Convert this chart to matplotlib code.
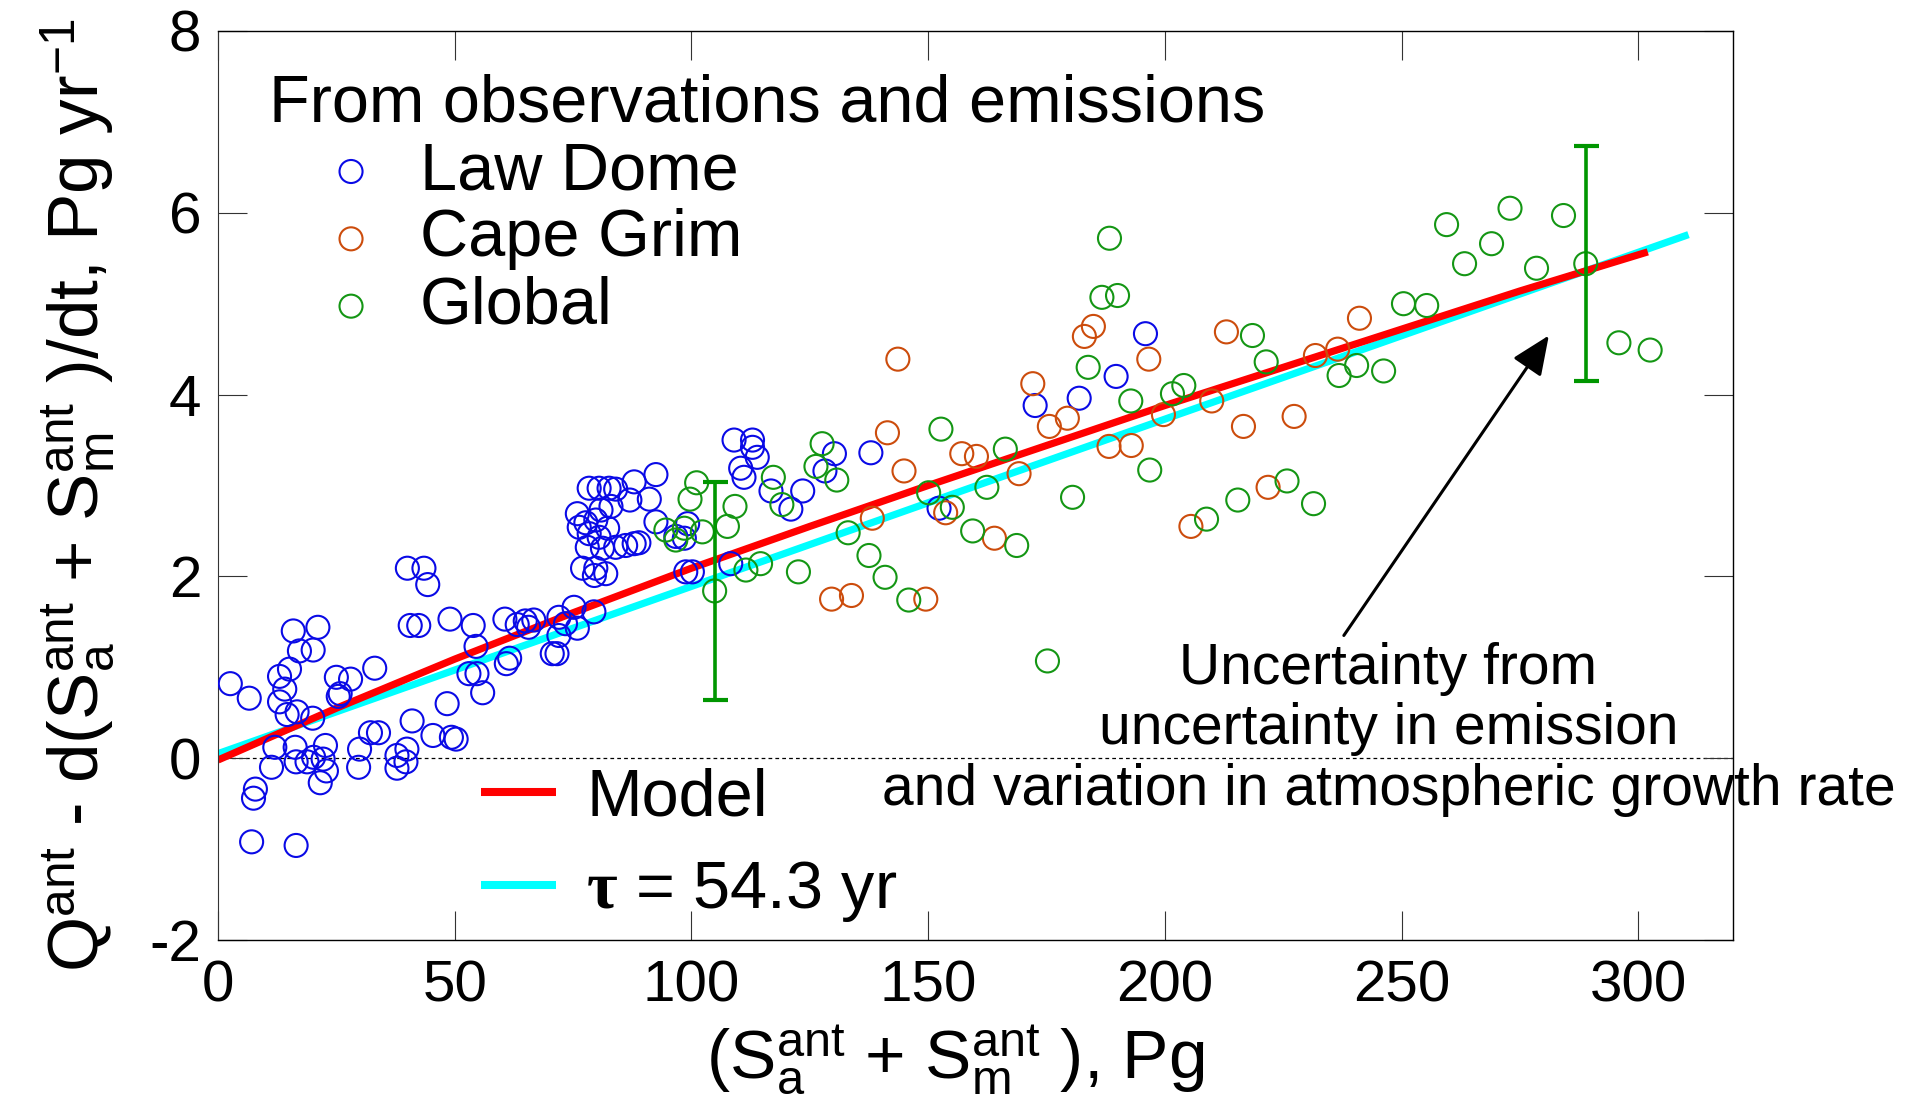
import matplotlib

matplotlib.use("Agg", force=True)
import matplotlib.pyplot as plt
import numpy as np

plt.rcParams["font.family"] = ["Liberation Sans", "DejaVu Sans"]
plt.rcParams["mathtext.fontset"] = "custom"
plt.rcParams["mathtext.rm"] = "Liberation Sans"
plt.rcParams["mathtext.it"] = "Liberation Serif:bold"
plt.rcParams["axes.unicode_minus"] = False

# Law Dome (x, y)
law_dome_x = [2.6, 6.6, 15.9, 21.1, 17.2, 20.1, 15.1, 13.0, 14.1, 13.0, 14.6, 16.7, 20.0, 25.0, 28.0,
              25.8, 25.4, 33.1, 12.0, 11.3, 16.3, 16.5, 18.8, 20.2, 22.7, 22.2, 22.9, 21.6, 7.9, 7.5,
              7.1, 16.5, 29.9, 29.7, 32.2, 33.9, 37.8, 37.8, 39.9, 39.7, 41.0, 45.4, 49.3, 50.3, 48.4,
              40.6, 42.4, 49.0, 53.9, 54.5, 53.0, 54.7, 55.9, 60.9, 61.6, 60.6, 63.2, 64.9, 66.7, 65.6,
              70.6, 71.6, 72.0, 72.0, 75.2, 75.9, 79.4, 73.4, 40.0, 43.5, 44.3,
              92.5, 87.9, 91.1, 87.0, 78.4, 80.5, 82.6, 84.0, 75.9, 80.9, 83.0, 77.7, 79.8, 82.3, 78.4,
              80.5, 78.0, 81.2, 84.0, 86.1, 87.9, 88.9, 77.0, 79.8, 81.9, 79.5, 76.3,
              92.5, 99.2, 98.5, 96.7, 98.8, 100.2, 109.0, 112.9, 112.9, 113.9, 110.4, 111.1, 116.8, 123.5,
              121.0, 130.2, 128.2, 137.9, 108.3, 152.3, 172.6, 181.9, 189.7, 195.9]
law_dome_y = [0.82, 0.66, 1.40, 1.44, 1.18, 1.19, 0.98, 0.90, 0.76, 0.62, 0.48, 0.51, 0.44, 0.89, 0.87,
              0.71, 0.68, 0.99, 0.12, -0.10, 0.12, -0.04, -0.04, 0.01, 0.14, -0.01, -0.14, -0.27, -0.34, -0.44,
              -0.92, -0.96, 0.10, -0.10, 0.28, 0.28, 0.03, -0.11, 0.10, -0.04, 0.41, 0.25, 0.23, 0.21, 0.60,
              1.46, 1.46, 1.53, 1.46, 1.23, 0.93, 0.93, 0.72, 1.04, 1.10, 1.53, 1.47, 1.51, 1.52, 1.44,
              1.15, 1.15, 1.35, 1.55, 1.66, 1.43, 1.61, 1.48, 2.09, 2.09, 1.91,
              3.12, 3.04, 2.85, 2.84, 2.97, 2.97, 2.97, 2.96, 2.69, 2.73, 2.77, 2.59, 2.62, 2.53, 2.47,
              2.43, 2.32, 2.31, 2.32, 2.34, 2.36, 2.37, 2.09, 2.09, 2.03, 2.01, 2.54,
              2.60, 2.58, 2.42, 2.44, 2.05, 2.05, 3.50, 3.50, 3.42, 3.31, 3.19, 3.09, 2.94, 2.94,
              2.74, 3.35, 3.16, 3.36, 2.14, 2.75, 3.88, 3.96, 4.20, 4.67]

# Cape Grim
cape_grim_x = [129.6, 133.8, 138.2, 141.4, 143.6, 144.9, 149.5, 153.7, 157.1, 160.2, 164.0, 169.2, 172.1,
               175.6, 179.4, 183.0, 184.9, 188.2, 192.9, 196.6, 199.7, 205.5, 209.9, 213.0, 216.6, 221.8,
               227.3, 231.8, 236.5, 241.1]
cape_grim_y = [1.75, 1.79, 2.64, 3.58, 4.39, 3.16, 1.75, 2.70, 3.35, 3.32, 2.42, 3.13, 4.12,
               3.65, 3.74, 4.64, 4.75, 3.43, 3.44, 4.39, 3.78, 2.55, 3.93, 4.69, 3.65, 2.98,
               3.76, 4.43, 4.50, 4.84]

# Global
global_x = [94.6, 96.7, 98.5, 99.7, 101.1, 102.3, 104.9, 107.6, 109.2, 111.5, 114.6, 117.3, 119.1, 122.6,
            126.3, 127.6, 130.7, 133.1, 137.5, 140.9, 145.9, 150.1, 152.7, 155.1, 159.4, 162.4, 166.3,
            168.7, 175.2, 180.5, 183.8, 186.7, 188.3, 190.0, 192.8, 196.8, 201.6, 204.0, 208.8, 215.4,
            218.5, 221.4, 225.8, 231.4, 236.8, 240.5, 246.2, 250.4, 255.3, 259.5, 263.3, 269.0, 272.9,
            278.5, 284.2, 288.9, 295.9, 302.5]
global_y = [2.51, 2.40, 2.53, 2.85, 3.03, 2.49, 1.84, 2.55, 2.77, 2.07, 2.14, 3.09, 2.79, 2.05,
            3.21, 3.46, 3.06, 2.48, 2.23, 1.99, 1.74, 2.92, 3.62, 2.76, 2.50, 2.98, 3.40,
            2.34, 1.07, 2.87, 4.30, 5.07, 5.72, 5.09, 3.93, 3.17, 4.01, 4.10, 2.63, 2.84,
            4.65, 4.36, 3.05, 2.80, 4.21, 4.32, 4.26, 5.00, 4.98, 5.87, 5.44, 5.66, 6.05,
            5.39, 5.97, 5.44, 4.57, 4.49]

# uncertainty bars on two Global points
err_x = [104.9, 288.9]
err_y = [1.84, 5.44]
err_half = [1.20, 1.29]

# model curve and tau fit
model_x = [0, 25, 50, 75, 100, 125, 150, 175, 200, 225, 250, 275, 302]
model_y = [-0.02, 0.55, 1.09, 1.60, 2.09, 2.55, 3.00, 3.44, 3.88, 4.30, 4.72, 5.14, 5.57]
tau_x = [0, 100, 200, 310.6]
tau_y = [0.05, 1.89, 3.73, 5.76]

xticks = [0, 50, 100, 150, 200, 250, 300]
yticks = [-2, 0, 2, 4, 6, 8]

W, H = 1915, 1110
fig = plt.figure(figsize=(W / 100, H / 100), dpi=100)
ax = fig.add_axes([218 / W, 170 / H, 1515 / W, 909 / H])

ax.axhline(0, color="k", lw=0.9, ls=(0, (3, 2.5)), zorder=1)
ax.plot(tau_x, tau_y, color="#00ffff", lw=5.2, solid_capstyle="butt", zorder=2)
ax.plot(model_x, model_y, color="#ff0000", lw=5.2, solid_capstyle="butt", zorder=2.1)

mk = dict(s=275, facecolors="none", linewidths=1.5, zorder=3)
h1 = ax.scatter(law_dome_x, law_dome_y, edgecolors="#0a0ae6", label="Law Dome", **mk)
h2 = ax.scatter(cape_grim_x, cape_grim_y, edgecolors="#cc4c0c", label="Cape Grim", **mk)
h3 = ax.scatter(global_x, global_y, edgecolors="#149614", label="Global", **mk)

ax.errorbar(err_x, err_y, yerr=err_half, fmt="none", ecolor="#009600", elinewidth=2.6,
            capsize=9, capthick=3, zorder=4)

ax.set_xlim(0, 320)
ax.set_ylim(-2, 8)
ax.set_xticks(xticks)
ax.set_yticks(yticks)
ax.tick_params(direction="in", length=21, width=0.8, color="#333333", top=True, right=True,
               labelsize=42)
ax.tick_params(axis="x", pad=14)
ax.tick_params(axis="y", pad=12)
for side in ["top", "right", "bottom"]:
    ax.spines[side].set_linewidth(1.0)
ax.spines["left"].set_linestyle((0, (1.5, 1)))
ax.spines["left"].set_color("#333333")

ax.text(51 / 1515, (940 - 122) / 909, "From observations and emissions", transform=ax.transAxes,
        fontsize=48, va="baseline", ha="left")
leg1 = ax.legend(handles=[h1, h2, h3], loc="upper left", bbox_to_anchor=(317.7 / W, (H - 141) / H),
                 bbox_transform=fig.transFigure, frameon=False, fontsize=48, borderpad=0,
                 borderaxespad=0, handlelength=1.0, handletextpad=0.535, labelspacing=0.08)
ax.add_artist(leg1)

l_model, = ax.plot([], [], color="#ff0000", lw=5.8, solid_capstyle="butt")
l_tau, = ax.plot([], [], color="#00ffff", lw=5.8, solid_capstyle="butt")
ax.legend(handles=[l_model, l_tau], labels=["Model", r"$\tau$ = 54.3 yr"], loc="upper left",
          bbox_to_anchor=(481 / W, (H - 767) / H), bbox_transform=fig.transFigure, frameon=False,
          fontsize=48, borderpad=0, borderaxespad=0, handlelength=1.125, handletextpad=0.45,
          labelspacing=0.45)

# multi-line text: va="baseline" anchors the last line
ax.text(247.2, -0.51,
        "Uncertainty from\nuncertainty in emission\nand variation in atmospheric growth rate",
        fontsize=41, ha="center", va="baseline", linespacing=1.15, multialignment="center")
ax.annotate("", xy=(281.1, 4.65), xytext=(237.8, 1.35),
            arrowprops=dict(arrowstyle="-|>,head_length=0.6,head_width=0.26", color="k", lw=2.2,
                            mutation_scale=40, shrinkA=0, shrinkB=0))

fig.text(955 / W, (H - 1060) / H,
         r"(S$_\mathrm{a}^\mathrm{ant}$ + S$_\mathrm{m}^\mathrm{ant}$ ), Pg",
         fontsize=50, ha="center", va="center")
fig.text(78 / W, (H - 495) / H,
         r"Q$^\mathrm{ant}$ - d(S$_\mathrm{a}^\mathrm{ant}$ + S$_\mathrm{m}^\mathrm{ant}$ )/dt, Pg yr$^\mathrm{-1}$",
         fontsize=51, ha="center", va="center", rotation=90)

fig.savefig("out.png", dpi=100)
plt.close(fig)
